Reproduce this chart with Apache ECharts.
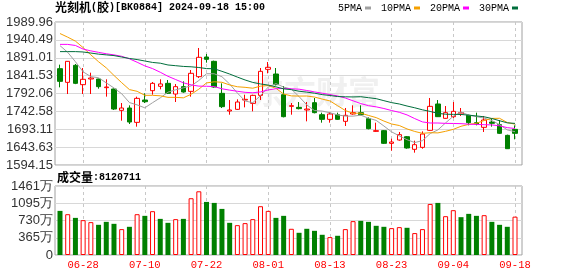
<!DOCTYPE html>
<html><head><meta charset="utf-8">
<script src="https://cdn.jsdelivr.net/npm/echarts@6/dist/echarts.min.js"></script>
<style>html,body{margin:0;padding:0;background:#fff}#c{width:578px;height:276px}</style>
</head><body><div id="c"></div>
<script>
const dates = ['06-25','06-26','06-27','06-28','07-01','07-02','07-03','07-04','07-05','07-08','07-09','07-10',
'07-11','07-12','07-15','07-16','07-17','07-18','07-19','07-22','07-23','07-24','07-25','07-26','07-29','07-30','07-31','08-01',
'08-02','08-05','08-06','08-07','08-08','08-09','08-12','08-13','08-14','08-15','08-16','08-19','08-20','08-21','08-22','08-23',
'08-26','08-27','08-28','08-29','08-30','09-02','09-03','09-04','09-05','09-06','09-09','09-10','09-11','09-12','09-13','09-18'];
const openP = [1860.8,1822.9,1870.0,1816.5,1832.2,1832.2,1808.2,1804.5,1745.4,1751.9,1712.2,1774.0,1799.9,1811.9,1820.2,
1790.6,1811.0,1798.0,1838.6,1893.1,1881.1,1792.5,1743.6,1748.2,1774.0,1764.8,1786.9,1858.9,1846.0,1788.8,
1756.5,1753.7,1746.4,1766.7,1733.4,1720.5,1733.4,1715.0,1735.3,1739.0,1722.4,1687.3,1689.2,1654.1,1663.3,
1672.5,1637.5,1643.0,1690.1,1763.0,1723.3,1727.9,1735.3,1731.6,1711.3,1698.4,1713.1,1705.8,1676.2,1692.8];
const closeP = [1825.7,1881.1,1820.2,1831.3,1835.0,1811.0,1810.0,1749.1,1751.9,1713.1,1778.6,1769.4,1820.2,1818.5,1792.5,
1811.0,1796.2,1847.9,1892.2,1886.6,1810.0,1755.6,1746.4,1768.5,1775.9,1786.9,1853.4,1864.5,1816.5,1727.9,
1758.4,1750.1,1749.0,1739.0,1720.5,1735.3,1720.5,1731.6,1739.0,1733.4,1694.7,1689.2,1654.1,1657.8,1678.1,
1641.2,1650.4,1679.9,1756.5,1727.9,1739.0,1742.7,1739.0,1711.3,1707.6,1718.7,1709.5,1681.8,1639.3,1681.8];
const lowP = [1809.1,1790.6,1818.0,1790.6,1790.6,1805.4,1783.3,1746.4,1716.8,1707.6,1700.2,1765.7,1788.8,1803.6,1790.6,
1768.5,1794.3,1783.3,1834.9,1877.4,1808.0,1751.9,1733.4,1746.4,1753.7,1742.7,1774.0,1847.9,1814.6,1726.0,
1733.4,1748.2,1715.0,1737.1,1711.3,1711.3,1718.7,1702.1,1733.4,1731.6,1692.8,1686.0,1652.3,1633.8,1661.5,
1639.3,1628.3,1639.3,1689.0,1727.0,1722.4,1724.2,1729.8,1703.9,1703.9,1685.5,1700.2,1679.9,1638.5,1665.2];
const highP = [1871.9,1882.0,1873.7,1862.6,1849.7,1833.0,1831.3,1806.0,1765.7,1759.3,1783.3,1792.5,1823.9,1831.3,1829.4,
1818.3,1825.7,1857.1,1918.0,1901.4,1883.0,1820.2,1774.0,1775.9,1788.8,1788.8,1862.6,1879.2,1862.6,1812.8,
1765.7,1768.5,1768.5,1779.6,1739.0,1740.8,1739.0,1751.9,1759.3,1759.3,1726.1,1711.3,1691.0,1667.0,1685.5,
1674.4,1661.5,1687.3,1779.6,1774.0,1757.4,1768.5,1751.9,1733.4,1739.0,1729.8,1722.4,1718.7,1678.1,1703.9];
const volumeWan = [934,864,786,738,696,639,702,660,548,597,864,829,928,765,681,759,765,1202,1349,1124,
1103,976,681,632,675,759,1033,934,786,829,555,470,555,512,428,379,407,548,717,723,
702,618,597,569,590,576,464,548,1081,1103,822,949,801,871,829,843,702,639,597,812];
const ma5 = [1924.5,1906,1880,1852,1838.7,1835.7,1821.5,1807.3,1791.4,1767.0,1760.5,1752.4,1766.6,1780.0,1795.8,
1802.3,1807.7,1813.2,1828.0,1846.8,1846.6,1838.5,1818.2,1793.4,1771.3,1766.7,1786.2,1809.8,1819.4,1809.8,
1804.1,1783.5,1760.4,1744.9,1743.4,1738.8,1732.9,1729.4,1729.4,1732.0,1723.8,1717.6,1702.1,1685.8,1674.8,
1664.1,1656.3,1661.5,1681.2,1691.2,1710.7,1729.2,1741.0,1732.0,1727.9,1723.9,1717.2,1705.8,1691.4,1686.2];
const ma10 = [1958,1948,1937,1919,1899,1880,1863,1842,1822,1802.9,1798.1,1787.0,1787.0,1785.7,1781.4,
1781.4,1780.1,1789.9,1804.0,1821.3,1824.5,1823.1,1815.7,1810.7,1809.1,1806.7,1812.4,1814.0,1806.4,1790.6,
1785.4,1784.9,1785.1,1782.2,1776.6,1771.5,1758.2,1744.9,1737.2,1737.7,1731.3,1725.3,1715.8,1707.6,1703.4,
1694.0,1687.0,1681.8,1683.5,1683.0,1687.4,1692.8,1701.3,1706.6,1709.6,1717.3,1723.2,1723.4,1711.7,1707.1];
const ma20 = [1928,1928,1925,1915,1910,1906,1902,1899,1895,1888,1878.6,1868.5,1861.0,1850.9,1839.7,
1830.7,1821.6,1816.0,1812.5,1812.1,1811.3,1805.1,1801.4,1798.2,1795.3,1794.1,1796.3,1802.0,1805.2,1806.0,
1805.0,1804.0,1800.4,1796.5,1792.9,1789.1,1785.3,1779.5,1771.8,1764.2,1758.4,1755.1,1750.5,1744.9,1740.0,
1732.8,1722.6,1713.4,1710.4,1710.4,1709.4,1709.1,1708.6,1707.1,1706.5,1705.7,1705.1,1702.6,1697.6,1695.1];
const ma30 = [1908,1908,1908,1907,1904,1901,1899,1897,1893,1889,1886,1882,1878,1876,1871,
1869,1867,1866,1864,1861,1860.5,1853.4,1845.9,1837.5,1829.5,1822.7,1818.5,1815.3,1810.5,1804.9,
1802.7,1798.3,1795.9,1792.9,1789.0,1786.5,1783.6,1782.9,1782.5,1783.2,1780.4,1777.8,1772.2,1766.8,1763.0,
1757.4,1752.5,1746.9,1742.4,1737.1,1734.7,1734.3,1734.1,1732.1,1729.9,1727.6,1722.8,1716.7,1710.8,1709.3];
const priceTicks = ['1594.15','1643.63','1693.11','1742.58','1792.06','1841.53','1891.01','1940.49','1989.96'];
const priceMin = 1594.15, priceMax = 1989.96;
const volTicks = ['0','365万','730万','1095万','1461万'];
const volMax = 1461;
const xTickLabels = ['06-28','07-10','07-22','08-01','08-13','08-23','09-04','09-18'];
const legendNames = ['5PMA','10PMA','20PMA','30PMA'];
const lastVolume = '8120711';

const RED = '#ff0000', GREEN = '#008000';
const MONO = 'Liberation Mono';
const showTick = (idx, val) => xTickLabels.indexOf(dates[idx]) >= 0;
const kData = dates.map((d, i) => [openP[i], closeP[i], lowP[i], highP[i]]);
const volData = volumeWan.map((v, i) => {
  const up = i > 0 && closeP[i] >= closeP[i - 1];
  return { value: v, itemStyle: up ? { color: '#fff', borderColor: RED, borderWidth: 1 } : { color: GREEN, borderColor: GREEN, borderWidth: 0 } };
});
const gridFrame = { show: true, borderColor: '#a0a0a0', borderWidth: 1, backgroundColor: 'transparent' };
const axisLabelY = { color: '#333', fontSize: 13, fontFamily: 'Liberation Sans', margin: 2 };
const dashed = { show: true, interval: showTick, lineStyle: { type: [3, 3], color: '#c8c8c8', width: 1 } };
const chart = echarts.init(document.getElementById('c'), null, { renderer: 'canvas' });
const maLine = (name, data, color) => ({ name, type: 'line', xAxisIndex: 1, yAxisIndex: 1, data, symbol: 'none', showSymbol: false,
  lineStyle: { width: 1, color }, itemStyle: { color }, z: 3 });
const richText = { c: { fontFamily: 'Noto Sans CJK SC', fontSize: 12, color: '#000' }, m: { fontFamily: MONO, fontSize: 10, color: '#000' } };
chart.setOption({
  animation: false,
  backgroundColor: '#fff',
  title: [
    { text: '{c|光刻机}{m|(}{c|胶}{m|)[BK0884] 2024-09-18 15:00}', left: 55, top: 1, padding: 0, textStyle: { rich: richText } },
    { text: '{c|成交量}{m|:' + lastVolume + '}', left: 57, top: 171, padding: 0, textStyle: { rich: richText } }
  ],
  legend: { data: legendNames, left: 338, top: 3, align: 'right', icon: 'rect', itemWidth: 6, itemHeight: 3, itemGap: 10,
    selectedMode: false, padding: 0, textStyle: { fontFamily: MONO, fontSize: 10, color: '#000', padding: [0, -2, 0, 0] } },
  graphic: [{ type: 'text', left: 252, top: 76, z: -1, silent: true,
    style: { text: '东方财富', fontSize: 32, fontWeight: 'bold', fontFamily: 'Noto Sans CJK SC', fill: '#f0f0f0' } }],
  grid: [
    Object.assign({ left: 55, right: 56, top: 22, bottom: 111 }, gridFrame),
    { left: 60, right: 63, top: 22, bottom: 111 },
    Object.assign({ left: 55, right: 56, top: 186, bottom: 21 }, gridFrame),
    { left: 60, right: 63, top: 186, bottom: 21 }
  ],
  xAxis: [
    { gridIndex: 0, type: 'value', min: 0, max: 1, show: false },
    { gridIndex: 1, type: 'category', data: dates, boundaryGap: false, axisLine: { show: false }, axisTick: { show: false }, axisLabel: { show: false }, splitLine: dashed },
    { gridIndex: 2, type: 'value', min: 0, max: 1, show: false },
    { gridIndex: 3, type: 'category', data: dates, boundaryGap: false, axisLine: { show: false }, axisTick: { show: false },
      axisLabel: { interval: showTick, color: RED, fontFamily: MONO, fontSize: 10.5, margin: 5 }, splitLine: dashed }
  ],
  yAxis: [
    { gridIndex: 0, type: 'value', min: 0, max: 8, interval: 1, axisLine: { show: false }, axisTick: { show: false },
      axisLabel: Object.assign({ formatter: v => priceTicks[v] }, axisLabelY), splitLine: { lineStyle: { color: '#d8d8d8' } } },
    { gridIndex: 1, type: 'value', min: priceMin, max: priceMax, show: false },
    { gridIndex: 2, type: 'value', min: 0, max: 4, interval: 1, axisLine: { show: false }, axisTick: { show: false },
      axisLabel: Object.assign({ formatter: v => volTicks[v] }, axisLabelY), splitLine: { lineStyle: { color: '#d8d8d8' } } },
    { gridIndex: 3, type: 'value', min: 0, max: volMax, show: false }
  ],
  series: [
    { type: 'line', xAxisIndex: 0, yAxisIndex: 0, data: [], silent: true },
    { type: 'line', xAxisIndex: 2, yAxisIndex: 2, data: [], silent: true },
    { type: 'candlestick', name: 'K', xAxisIndex: 1, yAxisIndex: 1, data: kData, barWidth: 5,
      itemStyle: { color: '#fff', color0: GREEN, borderColor: RED, borderColor0: GREEN, borderWidth: 1 } },
    maLine('5PMA', ma5, '#a0a0a0'),
    maLine('10PMA', ma10, '#f5a000'),
    maLine('20PMA', ma20, '#ff00ff'),
    maLine('30PMA', ma30, '#006e3c'),
    { type: 'bar', xAxisIndex: 3, yAxisIndex: 3, data: volData, barWidth: 5 }
  ]
});
</script></body></html>
